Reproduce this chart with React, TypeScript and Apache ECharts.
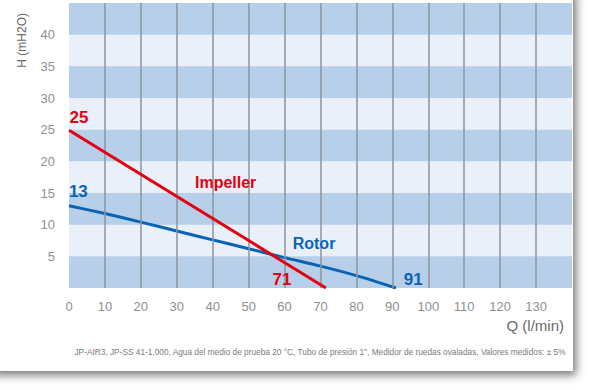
import React, { useEffect, useRef } from "react";
import * as echarts from "echarts";

const xTicks = [0, 10, 20, 30, 40, 50, 60, 70, 80, 90, 100, 110, 120, 130];
const impellerQ = [0, 71.5];
const impellerH = [24.9, 0];
const rotorQ = [0, 10, 20, 30, 40, 50, 60, 70, 80, 91];
const rotorH = [13, 11.75, 10.4, 9.0, 7.6, 6.2, 4.8, 3.45, 1.95, 0];
const bands = [0, 10, 20, 30, 40]; // dark band starts, each 5 high
const impellerLabels = [
  { text: "25", q: 2.8, h: 27.0, size: 17 },
  { text: "Impeller", q: 43.6, h: 16.7, size: 16 },
  { text: "71", q: 59.3, h: 1.3, size: 17 },
];
const rotorLabels = [
  { text: "13", q: 2.6, h: 15.3, size: 17 },
  { text: "Rotor", q: 68.2, h: 6.95, size: 16 },
  { text: "91", q: 95.8, h: 1.4, size: 17 },
];
const footer =
  "JP-AIR3, JP-SS 41-1,000, Agua del medio de prueba 20 °C, Tubo de presión 1\", Medidor de ruedas ovaladas, Valores medidos: ± 5%";

const RED = "#e3000f";
const BLUE = "#0a64b4";
const FONT = "'Liberation Sans', Arial, sans-serif";

export default function App() {
  const ref = useRef<HTMLDivElement>(null);
  useEffect(() => {
    if (!ref.current) return;
    const chart = echarts.init(ref.current, undefined, { renderer: "svg" });
    const mk = (labels: any[], color: string) => ({
      symbol: "circle",
      symbolSize: 0,
      silent: true,
      data: labels.map((l) => ({
        coord: [l.q, l.h],
        label: {
          show: true,
          position: "inside",
          formatter: l.text,
          color,
          fontWeight: "bold",
          fontSize: l.size,
          fontFamily: FONT,
        },
      })),
    });
    chart.setOption({
      animation: false,
      backgroundColor: "transparent",
      grid: { left: 69, right: 19, top: 3, bottom: 102 },
      graphic: [
        {
          type: "text",
          left: 16,
          top: 13,
          rotation: Math.PI / 2,
          style: {
            text: "H (mH2O)",
            fill: "#6a6a6a",
            fontSize: 12,
            fontFamily: FONT,
          },
        },
      ],
      xAxis: {
        type: "value",
        min: 0,
        max: 140,
        interval: 10,
        axisLine: { show: false },
        axisTick: { show: false },
        splitLine: { show: false },
        axisLabel: {
          color: "#8f8f8f",
          fontSize: 13,
          fontFamily: FONT,
          margin: 12,
          formatter: (v: number) => (xTicks.includes(v) ? String(v) : ""),
        },
        name: "Q (l/min)",
        nameLocation: "end",
        nameGap: 0,
        nameTextStyle: {
          color: "#6a6a6a",
          fontSize: 15,
          fontFamily: FONT,
          align: "right",
          verticalAlign: "top",
          padding: [30, 8, 0, 0],
        },
      },
      yAxis: {
        type: "value",
        min: 0,
        max: 45,
        interval: 5,
        axisLine: { show: false },
        axisTick: { show: false },
        splitLine: { show: false },
        axisLabel: {
          color: "#8f8f8f",
          fontSize: 13,
          fontFamily: FONT,
          margin: 14,
          formatter: (v: number) => (v === 0 || v === 45 ? "" : String(v)),
        },
      },
      series: [
        {
          type: "line",
          silent: true,
          z: 1,
          data: [],
          markArea: {
            silent: true,
            itemStyle: { color: "#e9f0fa" },
            data: [[{ yAxis: 0 }, { yAxis: 45 }]],
          },
        },
        {
          type: "line",
          silent: true,
          z: 1,
          data: [],
          markArea: {
            silent: true,
            itemStyle: { color: "#b8cfea" },
            data: bands.map((b) => [{ yAxis: b }, { yAxis: b + 5 }]),
          },
          markLine: {
            silent: true,
            symbol: "none",
            label: { show: false },
            lineStyle: { color: "#8e959e", width: 1.5, type: "solid" },
            data: xTicks.filter((v) => v > 0).map((v) => ({ xAxis: v })),
          },
        },
        {
          type: "line",
          z: 5,
          symbol: "none",
          lineStyle: { color: RED, width: 3 },
          data: impellerQ.map((q, i) => [q, impellerH[i]]),
          markPoint: mk(impellerLabels, RED),
        },
        {
          type: "line",
          z: 4,
          symbol: "none",
          smooth: 0.3,
          lineStyle: { color: BLUE, width: 3 },
          data: rotorQ.map((q, i) => [q, rotorH[i]]),
          markPoint: mk(rotorLabels, BLUE),
        },
      ],
    });
    return () => chart.dispose();
  }, []);

  return (
    <div style={{ position: "fixed", left: 0, top: 0, width: 591, height: 390, background: "#fff", overflow: "hidden" }}>
      <div
        style={{
          position: "absolute",
          left: -10,
          top: -10,
          width: 583,
          height: 381,
          background: "#fff",
          boxShadow: "3px 4px 9px rgba(0,0,0,0.55)",
        }}
      />
      <div ref={ref} style={{ position: "absolute", left: 0, top: 0, width: 591, height: 390 }} />
      <div
        style={{
          position: "absolute",
          left: 20,
          width: 600,
          top: 346,
          textAlign: "center",
          fontFamily: FONT,
          fontSize: 9.5,
          color: "#7a7a7a",
          whiteSpace: "nowrap",
          transform: "scaleX(0.873)",
          transformOrigin: "50% 50%",
        }}
      >
        {footer}
      </div>
    </div>
  );
}
